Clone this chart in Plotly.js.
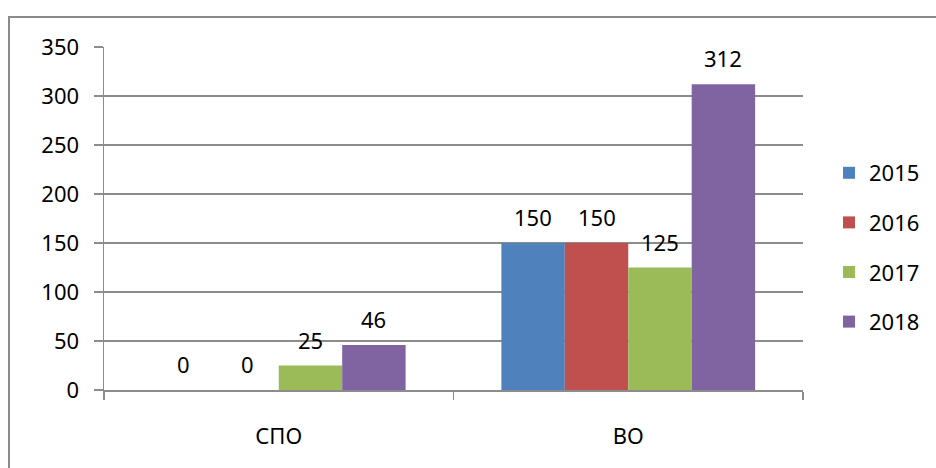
<!DOCTYPE html>
<html>
<head>
<meta charset="utf-8">
<script src="https://cdn.plot.ly/plotly-3.0.1.min.js"></script>
<style>html,body{margin:0;padding:0;background:#fff;}#chart{width:936px;height:468px;}</style>
</head>
<body>
<div id="chart"></div>
<script>
var categories = ['СПО', 'ВО'];
var seriesNames = ['2015', '2016', '2017', '2018'];
var values2015 = [0, 150];
var values2016 = [0, 150];
var values2017 = [25, 125];
var values2018 = [46, 312];
var yTicks = [0, 50, 100, 150, 200, 250, 300, 350];

var seriesValues = [values2015, values2016, values2017, values2018];
var colors = ['#4F81BD', '#C0504D', '#9BBB59', '#8064A2'];
var FONT = 'Noto Sans, Open Sans, sans-serif';
var BARGAP = 0.274;
var GRID = '#8c8c8c';

var traces = seriesNames.map(function (name, i) {
  return {
    type: 'bar',
    name: name,
    x: categories,
    y: seriesValues[i],
    marker: {color: colors[i], line: {width: 0}},
    legendgroup: 'g' + i,
    hoverinfo: 'x+y+name'
  };
});

var n = seriesNames.length;
var w = (1 - BARGAP) / n;
var annotations = [];
seriesValues.forEach(function (vals, i) {
  var off = -(1 - BARGAP) / 2 + w * (i + 0.5);
  vals.forEach(function (v, c) {
    annotations.push({
      x: c + off, y: v, xref: 'x', yref: 'y',
      text: String(v), showarrow: false,
      yanchor: 'middle', xanchor: 'center', yshift: 26,
      font: {family: FONT, size: 22, color: '#000'}
    });
  });
});

var L = 104, R = 133, T = 47, B = 78;
var PW = 936 - L - R, PH = 468 - T - B;

var layout = {
  width: 936, height: 468,
  margin: {l: L, r: R, t: T, b: B, pad: 0, autoexpand: false},
  paper_bgcolor: '#fff', plot_bgcolor: '#fff',
  font: {family: FONT, size: 22, color: '#000'},
  barmode: 'group', bargap: BARGAP, bargroupgap: 0,
  showlegend: true,
  legend: {
    x: (829 - L) / PW, xanchor: 'left',
    y: (390 - 247.5) / PH, yanchor: 'middle',
    font: {family: FONT, size: 22, color: '#000'},
    tracegroupgap: 18,
    bgcolor: 'rgba(0,0,0,0)'
  },
  xaxis: {
    type: 'category',
    showgrid: false, zeroline: false,
    showline: true, linecolor: GRID, linewidth: 1.5,
    ticks: 'outside', tickson: 'boundaries', ticklen: 8, tickwidth: 1.5, tickcolor: GRID,
    ticklabelstandoff: 26,
    tickfont: {family: FONT, size: 22, color: '#000'}
  },
  yaxis: {
    range: [0, 350],
    tickvals: yTicks, ticktext: yTicks.map(String),
    showgrid: true, gridcolor: GRID, gridwidth: 1.5,
    zeroline: false,
    showline: true, linecolor: GRID, linewidth: 1.5,
    ticks: 'outside', ticklen: 9, tickwidth: 1.5, tickcolor: GRID,
    ticklabelstandoff: 10,
    tickfont: {family: FONT, size: 22, color: '#000'}
  },
  annotations: annotations,
  shapes: [{
    type: 'rect', xref: 'paper', yref: 'paper', layer: 'below',
    x0: (9 - L) / PW, x1: (945 - L) / PW,
    y0: (390 - 480) / PH, y1: (390 - 17) / PH,
    line: {color: '#8a8a8a', width: 2}, fillcolor: 'rgba(0,0,0,0)'
  }]
};

Plotly.newPlot('chart', traces, layout, {displayModeBar: false, staticPlot: true});
</script>
</body>
</html>
